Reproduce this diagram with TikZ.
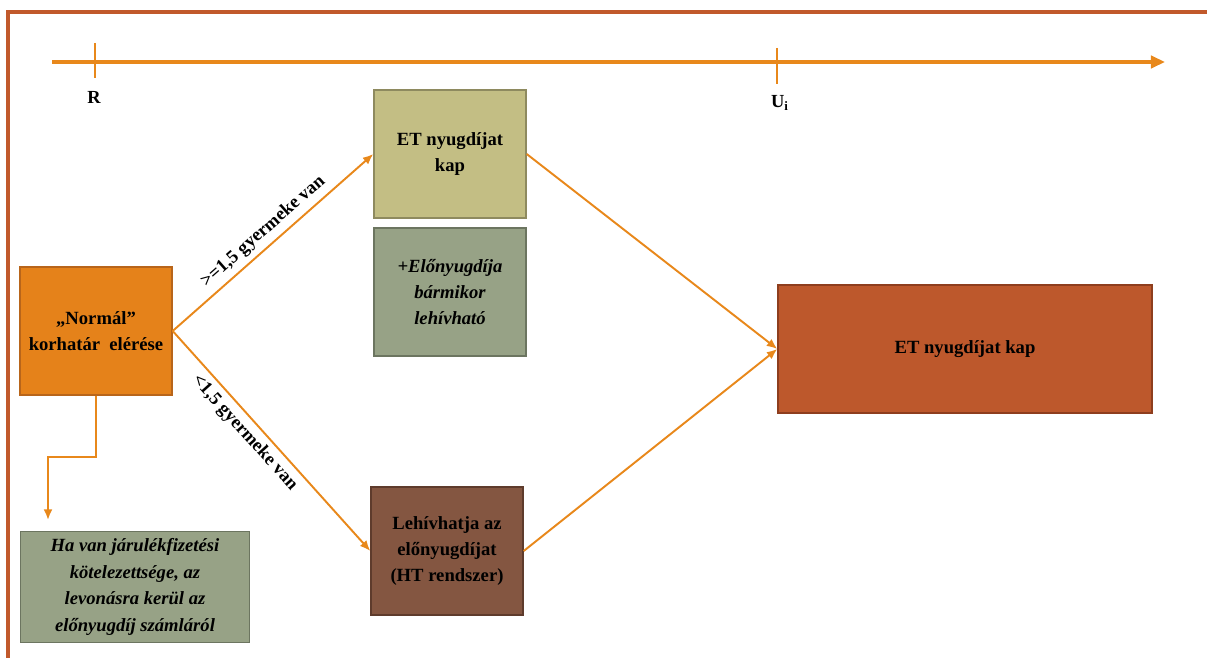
\documentclass[tikz,border=0pt]{standalone}
\usepackage{fontspec}
\setmainfont{Liberation Serif}
\usetikzlibrary{arrows.meta}
\definecolor{flowLine}{HTML}{E8881B}
\definecolor{frameLine}{HTML}{C1592B}
\definecolor{normalBox}{HTML}{E5821A}
\definecolor{normalEdge}{HTML}{B8651A}
\definecolor{etSmall}{HTML}{C3BE84}
\definecolor{etSmallEdge}{HTML}{8E8A5F}
\definecolor{sage}{HTML}{97A286}
\definecolor{sageEdge}{HTML}{6C7560}
\definecolor{htBox}{HTML}{845641}
\definecolor{htEdge}{HTML}{5E3B2C}
\definecolor{etBig}{HTML}{BD582C}
\definecolor{etBigEdge}{HTML}{8E3E1E}
\tikzset{
  box/.style={draw, line width=0.8pt, align=center, font=\fontsize{10.6}{14.8}\selectfont\bfseries,
    minimum width=3.04cm, minimum height=2.56cm, inner sep=2pt},
  flow/.style={draw=flowLine, line width=1.1pt, -{Latex[length=6pt,width=5pt]}},
  flowlabel/.style={font=\fontsize{10.5}{11}\selectfont\bfseries, sloped, inner sep=3pt},
}
\begin{document}
\begin{tikzpicture}[x=0.02cm, y=-0.02cm]
\useasboundingbox (0,0) rectangle (1207,658);
% frame
\draw[frameLine, line width=2pt] (8,658) -- (8,12) -- (1207,12);
% time axis
\coordinate (axisStart) at (52,62);
\coordinate (axisEnd) at (1165,62);
\draw[flowLine, line width=1.8pt, -{Triangle[length=8pt,width=7pt]}] (axisStart) -- (axisEnd);
\draw[flowLine, line width=1pt] (95,43) -- (95,78);
\draw[flowLine, line width=1pt] (777,48) -- (777,84);
\node[font=\fontsize{10.5}{12}\selectfont\bfseries] (tickR) at (94,97) {R};
\node[font=\fontsize{10.5}{12}\selectfont\bfseries] (tickU) at (780,103) {U\textsubscript{i}};

% boxes
\node[box, fill=normalBox, draw=normalEdge] (normal) at (96,331) {„Normál”\\korhatár\enspace elérése};
\node[box, fill=etSmall, draw=etSmallEdge] (etKap) at (450,154) {ET nyugdíjat\\kap};
\node[box, fill=sage, draw=sageEdge, font=\fontsize{10.6}{14.8}\selectfont\bfseries\itshape] (elony) at (450,292) {+Előnyugdíja\\bármikor\\lehívható};
\node[box, fill=htBox, draw=htEdge] (lehiv) at (447,551) {Lehívhatja az\\előnyugdíjat\\(HT rendszer)};
\node[box, fill=etBig, draw=etBigEdge, minimum width=7.48cm] (etVeg) at (965,349) {ET nyugdíjat kap};
\node[box, fill=sage, draw=sageEdge, minimum width=4.58cm, minimum height=2.22cm,
  font=\fontsize{10.6}{15.2}\selectfont\bfseries\itshape] (haVan) at (135,587)
  {Ha van járulékfizetési\\kötelezettsége, az\\levonásra kerül az\\előnyugdíj számláról};

% connectors
\draw[flow] (normal.east) -- node[flowlabel, above] {>=1,5 gyermeke van} (etKap.west);
\draw[flow] (normal.east) -- node[flowlabel, below, pos=0.42] {<1,5 gyermeke van} (lehiv.west);
\draw[flow] (etKap.east) -- (etVeg.west);
\draw[flow] (lehiv.east) -- (etVeg.west);
\coordinate (haVanTop) at (48,520);
\draw[flow] (normal.south) |- (48,457) -- (haVanTop);
\end{tikzpicture}
\end{document}
